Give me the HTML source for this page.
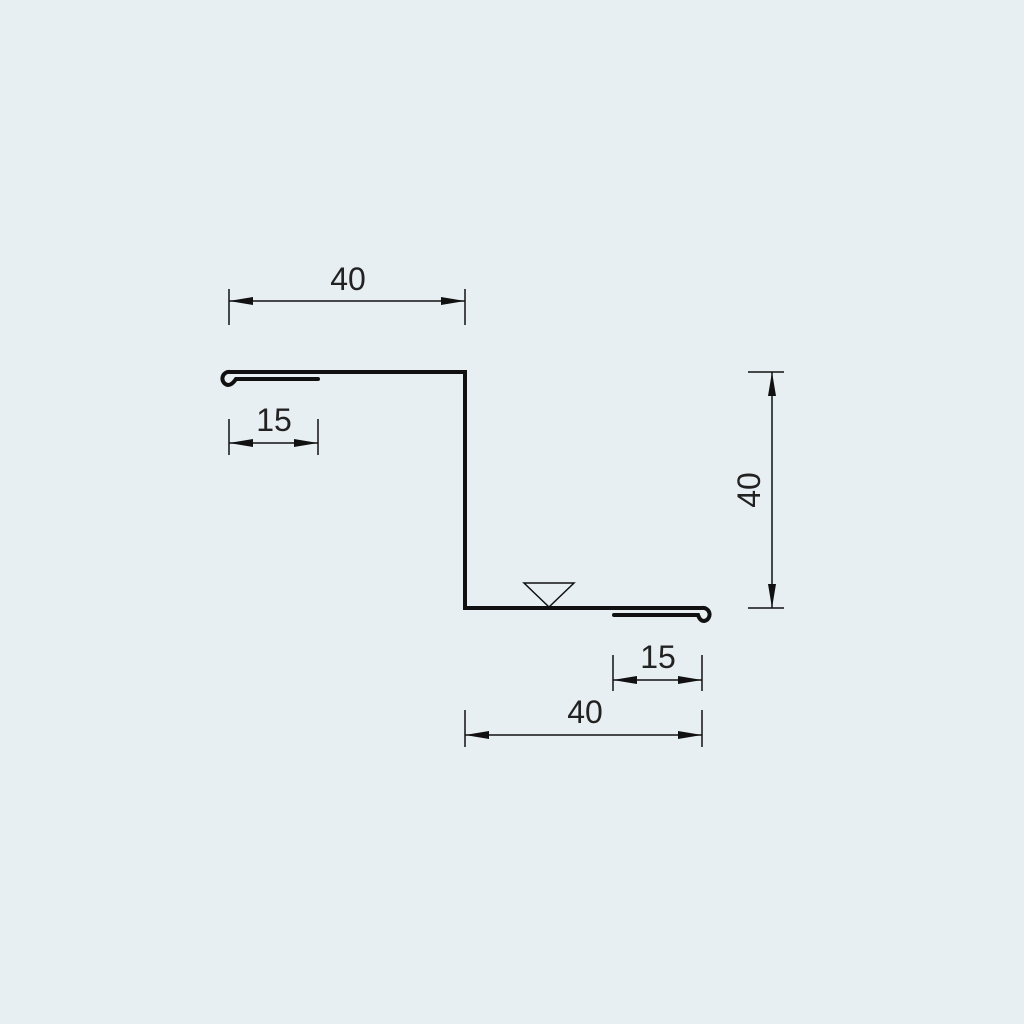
<!DOCTYPE html>
<html><head><meta charset="utf-8"><style>
html,body{margin:0;padding:0;background:#e8eff2;}
svg{display:block}
text{font-family:"Liberation Sans","DejaVu Sans",sans-serif;font-size:32px;fill:#222;font-weight:normal}
</style></head><body>
<svg width="1024" height="1024" viewBox="0 0 1024 1024">
<rect width="1024" height="1024" fill="#e8eff2"/>
<defs>
<marker id="a" viewBox="0 0 24 8" refX="24" refY="4" markerWidth="24" markerHeight="8" markerUnits="userSpaceOnUse" orient="auto-start-reverse">
<path d="M0,0 L24,4 L0,8 Z" fill="#111"/></marker>
</defs>
<g fill="none" stroke="#111" stroke-width="4" stroke-linecap="round" stroke-linejoin="miter">
<path d="M318,379 L236,379 Q232,385 228,385 A6.5,6.5 0 0 1 230,372 L465,372 L465,608 L702,608 A6.5,6.5 0 0 1 704,621 Q700,621 698,615 L614,615"/>
</g>
<g fill="none" stroke="#111" stroke-width="1.5">
<path d="M524,583 L574,583 L549,607 Z"/>
<line x1="229" y1="289" x2="229" y2="325"/><line x1="465" y1="289" x2="465" y2="325"/>
<line x1="229" y1="301" x2="465" y2="301" marker-start="url(#a)" marker-end="url(#a)"/>
<line x1="229" y1="419" x2="229" y2="455"/><line x1="318" y1="419" x2="318" y2="455"/>
<line x1="229" y1="443" x2="318" y2="443" marker-start="url(#a)" marker-end="url(#a)"/>
<line x1="748" y1="372" x2="784" y2="372"/><line x1="748" y1="608" x2="784" y2="608"/>
<line x1="772" y1="372" x2="772" y2="608" marker-start="url(#a)" marker-end="url(#a)"/>
<line x1="613" y1="655" x2="613" y2="691"/><line x1="702" y1="655" x2="702" y2="691"/>
<line x1="613" y1="680" x2="702" y2="680" marker-start="url(#a)" marker-end="url(#a)"/>
<line x1="465" y1="710" x2="465" y2="747"/><line x1="702" y1="710" x2="702" y2="747"/>
<line x1="465" y1="735" x2="702" y2="735" marker-start="url(#a)" marker-end="url(#a)"/>
</g>
<text x="348" y="290" text-anchor="middle">40</text>
<text x="274" y="431" text-anchor="middle">15</text>
<text x="658" y="668" text-anchor="middle">15</text>
<text x="585" y="723" text-anchor="middle">40</text>
<text transform="translate(760,490) rotate(-90)" text-anchor="middle">40</text>
</svg>
</body></html>
